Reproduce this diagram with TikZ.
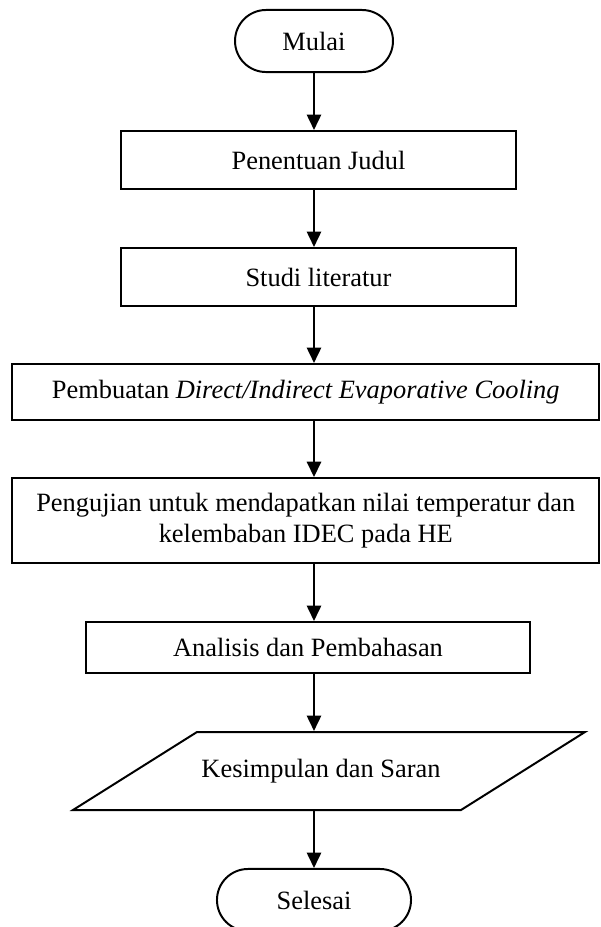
\documentclass[tikz,border=0pt]{standalone}
\usepackage{fontspec}
\setmainfont{Liberation Serif}
\usetikzlibrary{shapes.misc,arrows.meta}

\begin{document}
\begin{tikzpicture}[
   x = 0.4545pt, y = -0.4545pt,
   line width = 0.9pt,
   every node/.style = {font=\fontsize{12}{13.8}\selectfont, inner sep=0pt},
   terminal/.style = {draw, rounded rectangle, minimum height=28.2pt},
   process/.style = {draw, rectangle, align=center},
   flow/.style = {-{Triangle[length=7pt, width=6.5pt]}},
]
   \useasboundingbox (0,0) rectangle (601,927);
   % start and end
   \node [terminal, minimum width=71.8pt] (mulai) at (314,41) {Mulai};
   \node [terminal, minimum width=88.2pt] (selesai) at (314,900) {Selesai};
   % process steps
   \node [process, minimum width=179.5pt, minimum height=26.4pt]
      (judul) at (318.5,160) {Penentuan Judul};
   \node [process, minimum width=179.5pt, minimum height=26.4pt]
      (studi) at (318.5,277) {Studi literatur};
   \node [process, minimum width=267pt, minimum height=25.5pt]
      (buat) at (305.75,392) {Pembuatan \textit{Direct/Indirect Evaporative Cooling}};
   \node [process, minimum width=267pt, minimum height=38.6pt]
      (uji) at (305.75,520.5)
      {Pengujian untuk mendapatkan nilai temperatur dan\\kelembaban IDEC pada HE};
   \node [process, minimum width=201.8pt, minimum height=23.2pt]
      (analisis) at (308,647.5) {Analisis dan Pembahasan};
   % output
   \node [minimum height=35.5pt] (kesimpulan) at (321,771) {Kesimpulan dan Saran};
   \draw (197,732) -- (585,732) -- (461,810) -- (73,810) -- cycle;
   % arrows
   \foreach \a/\b in {mulai/judul, judul/studi, studi/buat, buat/uji,
                      uji/analisis, analisis/kesimpulan, kesimpulan/selesai}
      \draw [flow] (mulai |- \a.south) -- (mulai |- \b.north);
\end{tikzpicture}
\end{document}
